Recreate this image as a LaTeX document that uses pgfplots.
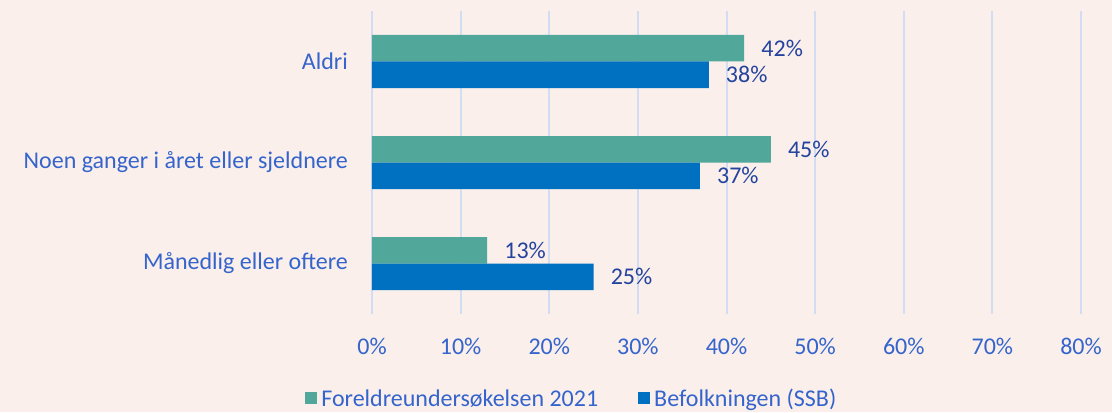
\documentclass[border=0pt]{standalone}
\usepackage{fontspec}
\setmainfont{Carlito}
\usepackage{pgfplots}
\pgfplotsset{compat=1.18}
\usetikzlibrary{backgrounds}
\definecolor{bg}{HTML}{FAEFEA}
\definecolor{cgreen}{HTML}{51A79A}
\definecolor{cblue}{HTML}{0070C0}
\definecolor{gridc}{HTML}{D2DCF2}
\definecolor{tickc}{HTML}{3464CC}
\definecolor{labc}{HTML}{24439E}
\begin{document}
\begin{tikzpicture}
\begin{axis}[
  xbar, scale only axis, width=709pt, height=303pt,
  xmin=0, xmax=80, ymin=-0.5, ymax=2.5,
  xtick={0,10,...,80},
  xticklabel={\pgfmathprintnumber{\tick}\%},
  ytick={0,1,2},
  yticklabels={Månedlig eller oftere, Noen ganger i året eller sjeldnere, Aldri},
  axis line style={draw=none},
  major tick length=0pt,
  xmajorgrids, grid style={color=gridc, line width=2pt},
  font=\fontsize{24}{28}\selectfont,
  /pgf/number format/assume math mode=true,
  tick label style={color=tickc, font=\fontsize{24}{28}\selectfont},
  yticklabel style={inner sep=0pt, xshift=-24pt, anchor=east},
  xticklabel style={inner sep=0pt, yshift=-24pt, anchor=north},
  bar width=26.5pt,
  nodes near coords={\pgfmathprintnumber{\pgfplotspointmeta}\%},
  nodes near coords style={color=labc, inner sep=0pt, xshift=17pt, anchor=west, font=\fontsize{24}{28}\selectfont},
  legend style={draw=none, fill=none, at={(0.2805,-0.28)}, anchor=center,
    legend columns=2, font=\fontsize{24}{28}\selectfont, text=tickc,
    /tikz/every even column/.append style={column sep=40pt},
    /tikz/every odd column/.append style={column sep=4pt},
    nodes={inner sep=0pt}},
]
\addplot[fill=cgreen, draw=none, bar shift=13.25pt,
  legend image code/.code={\fill[cgreen] (0pt,-5pt) rectangle (12pt,7pt);}]
  coordinates {(13,0) (45,1) (42,2)};
\addlegendentry{Foreldreundersøkelsen 2021}
\addplot[fill=cblue, draw=none, bar shift=-13.25pt,
  legend image code/.code={\fill[cblue] (0pt,-5pt) rectangle (12pt,7pt);}]
  coordinates {(25,0) (37,1) (38,2)};
\addlegendentry{Befolkningen (SSB)}
\end{axis}
\begin{scope}[on background layer]
\fill[bg] ([shift={(-372pt,-98pt)}]current axis.south west) rectangle ([shift={(31pt,11pt)}]current axis.north east);
\end{scope}
\end{tikzpicture}
\end{document}
